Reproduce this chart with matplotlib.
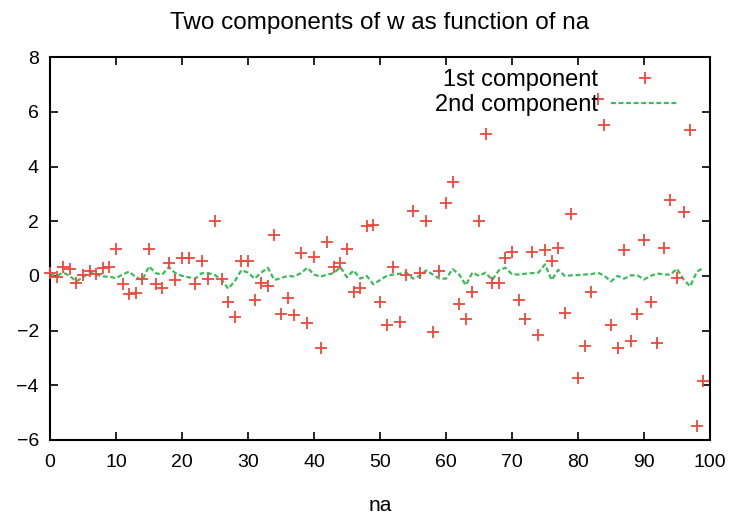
import numpy as np
import matplotlib
matplotlib.use('Agg')
import matplotlib.pyplot as plt

plt.rcParams['font.family'] = ['Liberation Sans', 'DejaVu Sans']

na = np.arange(100)

# 1st component of w
comp1 = [0.12, -0.05, 0.32, 0.27, -0.27, 0.05, 0.18, 0.08, 0.28, 0.32,
         0.98, -0.31, -0.68, -0.64, -0.12, 0.97, -0.31, -0.43, 0.48, -0.15,
         0.64, 0.64, -0.29, 0.54, -0.12, 2.00, -0.13, -0.96, -1.49, 0.54,
         0.54, -0.89, -0.25, -0.37, 1.49, -1.40, -0.82, -1.44, 0.85, -1.73,
         0.70, -2.62, 1.23, 0.34, 0.48, 0.97, -0.58, -0.43, 1.82, 1.85,
         -0.96, -1.80, 0.32, -1.67, 0.05, 2.39, 0.12, 2.00, -2.05, 0.18,
         2.65, 3.42, -1.04, -1.59, -0.58, 2.00, 5.20, -0.25, -0.25, 0.64,
         0.87, -0.89, -1.59, 0.87, -2.17, 0.93, 0.54, 1.03, -1.34, 2.27,
         -3.72, -2.56, -0.58, 6.47, 5.53, -1.80, -2.62, 0.93, -2.38, -1.40,
         1.30, -0.96, -2.44, 1.03, 2.79, -0.07, 2.34, 5.35, -5.48, -3.84]

# 2nd component of w
comp2 = [0.05, 0.00, 0.12, 0.00, -0.20, -0.05, 0.15, 0.05, -0.02, -0.03,
         -0.08, 0.05, 0.16, -0.05, -0.15, 0.35, 0.10, 0.05, 0.32, 0.10,
         0.00, -0.05, -0.10, 0.10, 0.10, 0.03, -0.13, -0.47, -0.19, 0.21,
         0.12, -0.10, 0.12, 0.30, -0.15, -0.08, 0.00, -0.02, 0.10, 0.30,
         0.05, -0.03, 0.05, 0.10, 0.32, -0.05, 0.20, -0.10, 0.00, -0.31,
         -0.15, 0.00, 0.05, 0.08, 0.12, -0.10, 0.00, 0.20, 0.05, -0.10,
         -0.10, 0.25, 0.05, -0.34, 0.12, 0.00, 0.12, -0.15, 0.20, 0.30,
         0.06, 0.05, 0.08, 0.10, 0.12, 0.42, -0.15, 0.22, 0.00, 0.02,
         0.03, 0.05, 0.06, 0.12, 0.00, -0.20, 0.00, -0.10, 0.02, 0.02,
         -0.13, 0.00, 0.09, 0.05, 0.05, 0.26, -0.13, -0.38, 0.15, 0.30]

xTicks = list(range(0, 101, 10))
yTicks = list(range(-6, 9, 2))

fig = plt.figure(figsize=(7.35, 5.2), dpi=100)
ax = fig.add_axes([0.068, 0.154, 0.898, 0.736])

ax.plot(na, comp1, linestyle='none', marker='+', markersize=8,
        markeredgewidth=1.3, color='#f0463c', clip_on=False,
        label='1st component', zorder=3)
ax.plot(na, comp2, linestyle=(0, (2.2, 1.2)), linewidth=1.6,
        color='#3dbb5a', label='2nd component', zorder=2)

ax.set_xlim(0, 100)
ax.set_ylim(-6, 8)
ax.set_xticks(xTicks)
ax.set_yticks(yTicks)
ax.tick_params(direction='in', length=6, width=1.2, top=True, right=True,
               labelsize=14, colors='black')
ax.tick_params(axis='x', pad=10)
ax.tick_params(axis='y', pad=8)
for s in ax.spines.values():
    s.set_linewidth(1.5)

ax.set_title('Two components of w as function of na', fontsize=17.5, pad=20)
ax.set_xlabel('na', fontsize=15, labelpad=18)

leg = ax.legend(loc='upper right', frameon=False, markerfirst=False,
                fontsize=17, handlelength=2.9, handletextpad=0.55,
                labelspacing=0.1, borderaxespad=0.2,
                bbox_to_anchor=(0.975, 1.005))

fig.savefig('out.png', dpi=100)
